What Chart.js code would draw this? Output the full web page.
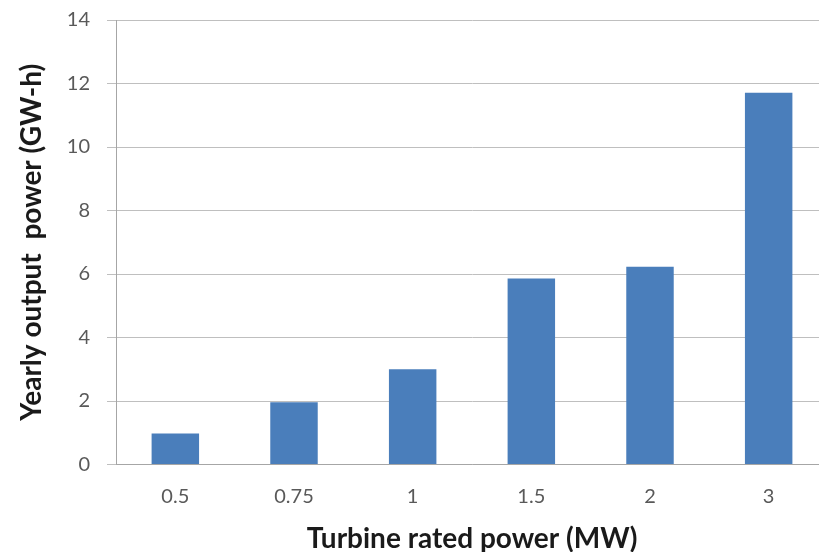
<!DOCTYPE html>
<html>
<head>
<meta charset="utf-8">
<script src="https://cdn.jsdelivr.net/npm/chart.js@4/dist/chart.umd.min.js"></script>
<style>
html,body{margin:0;padding:0;background:#fff;overflow:hidden;}
#wrap{position:absolute;left:0;top:0;width:828px;height:552px;}
</style>
</head>
<body>
<div id="wrap"><canvas id="c"></canvas></div>
<script>
const categories = ["0.5", "0.75", "1", "1.5", "2", "3"];
const yearlyOutput = [0.98, 1.96, 3.0, 5.86, 6.23, 11.71];
const yTicks = [0, 2, 4, 6, 8, 10, 12, 14];
const xTitle = "Turbine rated power (MW)";
const yTitle = "Yearly output  power (GW-h)";

new Chart(document.getElementById('c'), {
  type: 'bar',
  data: {
    labels: categories,
    datasets: [{
      data: yearlyOutput,
      backgroundColor: '#4a7ebb',
      borderWidth: 0,
      categoryPercentage: 1.0,
      barPercentage: 0.4
    }]
  },
  options: {
    responsive: true,
    maintainAspectRatio: false,
    animation: false,
    layout: { padding: { top: 20, left: 0, right: 0, bottom: 0 } },
    plugins: { legend: { display: false }, tooltip: { enabled: false } },
    scales: {
      x: {
        grid: { display: false, drawTicks: false },
        border: { display: true, color: '#a6a6a6', width: 1 },
        ticks: { color: '#595959', font: { family: 'Lato', size: 20 }, padding: 20, maxRotation: 0 },
        title: { display: true, text: xTitle, color: '#1a1a1a', font: { family: 'Lato', size: 28, weight: 'bold' }, padding: { top: 4, bottom: -4 } },
        afterFit: s => { s.height = 87.5; s.paddingLeft = 0; s.paddingRight = 0; }
      },
      y: {
        min: 0, max: 14,
        afterBuildTicks: s => { s.ticks = yTicks.map(v => ({ value: v })); },
        grid: { color: '#bfbfbf', lineWidth: 1, tickLength: 9, drawTicks: true, tickColor: '#bfbfbf' },
        border: { display: true, color: '#a6a6a6', width: 1 },
        ticks: { color: '#595959', font: { family: 'Lato', size: 20 }, padding: 17 },
        title: { display: true, text: yTitle, color: '#1a1a1a', font: { family: 'Lato', size: 28, weight: 'bold' }, padding: { top: 15, bottom: 0 } },
        afterFit: s => { s.width = 116; s.paddingTop = 0; s.paddingBottom = 0; }
      }
    }
  }
});
</script>
</body>
</html>
